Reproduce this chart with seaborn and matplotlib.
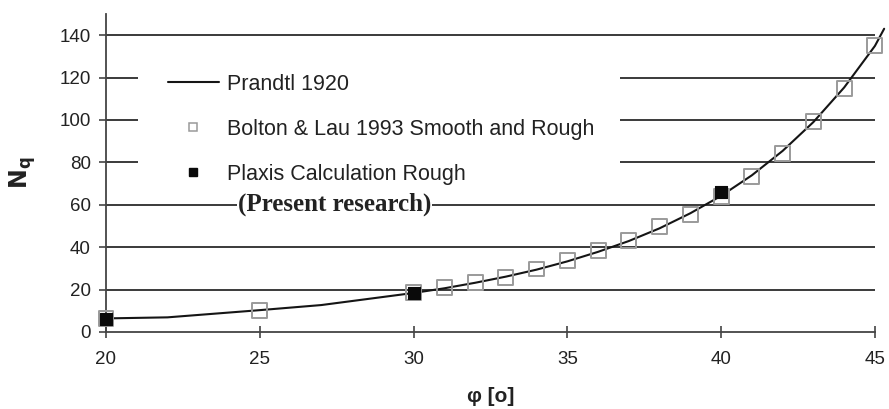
import matplotlib
matplotlib.use("Agg")
import matplotlib.pyplot as plt
import matplotlib.transforms as mtransforms
from matplotlib.lines import Line2D
from matplotlib.patches import Rectangle
import pandas as pd
import seaborn as sns

# Bearing capacity factor Nq versus friction angle
prandtl_phi = [20, 22, 25, 27, 30, 31, 32, 33, 34, 35, 36, 37, 38, 39, 40,
               41, 42, 43, 44, 45, 45.3]
prandtl_nq = [6.4, 6.9, 10.3, 12.7, 18.4, 20.6, 23.2, 26.1, 29.4, 33.3, 37.8,
              42.9, 48.9, 56.0, 64.2, 73.9, 85.4, 99.0, 115.3, 134.9, 143.0]

bolton_phi = [20, 25, 30, 31, 32, 33, 34, 35, 36, 37, 38, 39, 40, 41, 42, 43, 44, 45]
bolton_nq = [6.4, 10.0, 18.6, 21.1, 23.3, 25.8, 29.7, 33.6, 38.3, 43.0, 49.6,
             55.6, 64.1, 73.5, 84.2, 99.2, 114.9, 135.3]

plaxis_phi = [20, 30, 40]
plaxis_nq = [6.2, 18.5, 66.1]

x_ticks = [20, 25, 30, 35, 40, 45]
y_ticks = [0, 20, 40, 60, 80, 100, 120, 140]
legend_labels = ["Prandtl 1920", "Bolton & Lau 1993 Smooth and Rough",
                 "Plaxis Calculation Rough"]
note_text = "(Present research)"

sns.set_theme(style="white")
plt.rcParams["font.family"] = ["Liberation Sans", "DejaVu Sans"]

prandtl = pd.DataFrame({"phi": prandtl_phi, "nq": prandtl_nq})
bolton = pd.DataFrame({"phi": bolton_phi, "nq": bolton_nq})
plaxis = pd.DataFrame({"phi": plaxis_phi, "nq": plaxis_nq})

W, H = 889, 409
fig = plt.figure(figsize=(W / 100, H / 100), dpi=100)
ax = fig.add_axes([0.1192, 0.1883, 0.8788, 0.7777])

ink = "#222222"
grid_c = "#3a3a3a"

# horizontal reference lines spanning the angle range only
ax.hlines(y_ticks[1:], x_ticks[0], x_ticks[-1], colors=grid_c, linewidth=1.4, zorder=1)

# white panel behind the legend, interrupting the reference lines
ax.add_patch(Rectangle((138 / W, 1 - 192 / H), (620 - 138) / W, (192 - 50) / H,
                       transform=fig.transFigure, facecolor="white",
                       edgecolor="none", zorder=1.5))

sns.lineplot(data=prandtl, x="phi", y="nq", ax=ax, color="#151515",
             linewidth=1.5, sort=False, zorder=3, legend=False)
sns.scatterplot(data=bolton, x="phi", y="nq", ax=ax, marker="s", s=115,
                facecolor="none", edgecolor="#9a9a9a", linewidth=1.4, zorder=4,
                legend=False, clip_on=False)
sns.scatterplot(data=plaxis, x="phi", y="nq", ax=ax, marker="s", s=80,
                color="#0a0a0a", edgecolor="#0a0a0a", linewidth=0.8, zorder=5,
                legend=False, clip_on=False)

ax.set_xlim(20, 45.4)
ax.set_ylim(0, 150)
ax.set_xticks(x_ticks)
ax.set_yticks(y_ticks)
ax.spines["top"].set_visible(False)
ax.spines["right"].set_visible(False)
ax.spines["bottom"].set_bounds(x_ticks[0], x_ticks[-1])
for side in ("left", "bottom"):
    ax.spines[side].set_color("#444444")
    ax.spines[side].set_linewidth(1.3)

ax.tick_params(axis="x", direction="inout", length=8, width=1.2, color="#444444",
               labelsize=13.5, labelcolor=ink, pad=10)
ax.tick_params(axis="y", direction="out", length=5, width=1.2, color="#444444",
               labelsize=13.5, labelcolor=ink, pad=6)
ax.xaxis.set_ticks_position("bottom")
ax.yaxis.set_ticks_position("left")

ax.set_xlabel("φ [o]", fontsize=15, fontweight="bold", color=ink)
ax.set_ylabel(r"$\mathbf{N_q}$", fontsize=17, color=ink)
trans_x = mtransforms.blended_transform_factory(ax.transData, fig.transFigure)
ax.xaxis.set_label_coords(32.5, 1 - 396 / H, transform=trans_x)
ax.xaxis.label.set_verticalalignment("center")
trans_y = mtransforms.blended_transform_factory(fig.transFigure, ax.transAxes)
ax.yaxis.set_label_coords(23 / W, 0.5, transform=trans_y)
ax.yaxis.label.set_verticalalignment("center")

handles = [
    Line2D([], [], color="#151515", linewidth=1.5),
    Line2D([], [], linestyle="none", marker="s", markersize=6,
           markerfacecolor="white", markeredgecolor="#9a9a9a", markeredgewidth=1.1),
    Line2D([], [], linestyle="none", marker="s", markersize=6,
           markerfacecolor="#0a0a0a", markeredgecolor="#0a0a0a"),
]
leg = ax.legend(handles, legend_labels, loc="upper left",
                bbox_to_anchor=(168 / W, 1 - 74 / H),
                bbox_transform=fig.transFigure, borderaxespad=0, borderpad=0,
                fontsize=15.5, frameon=False, handlelength=2.35,
                handletextpad=0.4, labelspacing=1.11)
leg.set_zorder(6)
for t in leg.get_texts():
    t.set_color(ink)

ax.text(27.44, 60, note_text, ha="center", va="center", fontsize=18,
        fontweight="bold", family=["Liberation Serif", "DejaVu Serif"],
        color=ink, zorder=6,
        bbox=dict(facecolor="white", edgecolor="none", pad=0.5))

fig.savefig("out.png", dpi=100)
